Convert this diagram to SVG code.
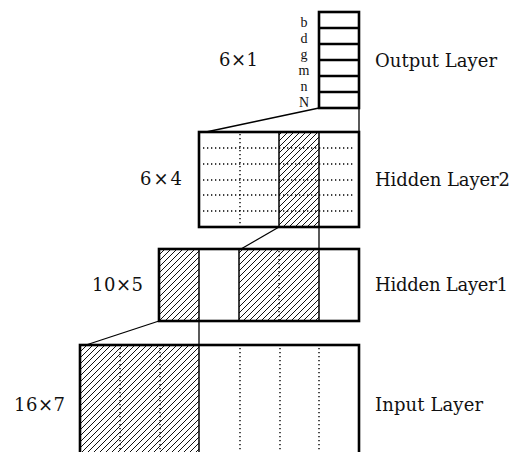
<svg xmlns="http://www.w3.org/2000/svg" width="511" height="452" viewBox="0 0 511 452">
<defs>
<pattern id="hatch" patternUnits="userSpaceOnUse" width="6" height="6">
<path d="M-1,1 l2,-2 M0,6 l6,-6 M5,7 l2,-2" stroke="#111" stroke-width="1"/>
</pattern>
<style>
.box{fill:none;stroke:#000;stroke-width:2.6}
.sol{fill:none;stroke:#000;stroke-width:1.5}
.dot{fill:none;stroke:#000;stroke-width:1.4;stroke-dasharray:1.3 2.7}
.hat{fill:url(#hatch);stroke:none}
.t{font-family:"DejaVu Serif","Liberation Serif",serif;font-size:18px;fill:#111}
.lt{font-family:"Liberation Serif","DejaVu Serif",serif;font-size:14px;fill:#111;text-anchor:middle}
</style>
</defs>
<rect width="511" height="452" fill="#fff"/>

<g id="output">
<rect class="box" x="319" y="12" width="40" height="96"/>
<path class="box" d="M319,28H359M319,44H359M319,60H359M319,76H359M319,92H359"/>
<text class="lt" x="304" y="27">b</text>
<text class="lt" x="304" y="43">d</text>
<text class="lt" x="304" y="59">g</text>
<text class="lt" x="304" y="75">m</text>
<text class="lt" x="304" y="91">n</text>
<text class="lt" x="304" y="107">N</text>
<text class="t" x="219" y="66" textLength="39">6×1</text>
<text class="t" x="375" y="67" textLength="122">Output Layer</text>
</g>

<g id="hidden2">
<rect class="hat" x="279" y="132" width="40" height="95"/>
<path class="dot" d="M203,148H355M203,164H355M203,180H355M203,195H355M203,211H355"/>
<path class="dot" d="M240,134V226"/>
<path class="sol" d="M279,132V227M319,132V227"/>
<rect class="box" x="199" y="132" width="160" height="95"/>
<text class="t" x="140" y="185" textLength="42">6×4</text>
<text class="t" x="375" y="186" textLength="135">Hidden Layer2</text>
</g>

<g id="hidden1">
<rect class="hat" x="159" y="249" width="40" height="72"/>
<rect class="hat" x="239" y="249" width="80" height="72"/>
<path class="dot" d="M279,251V320"/>
<path class="sol" d="M199,249V321M239,249V321M319,249V321"/>
<rect class="box" x="159" y="249" width="200" height="72"/>
<text class="t" x="92" y="291" textLength="51">10×5</text>
<text class="t" x="375" y="291" textLength="133">Hidden Layer1</text>
</g>

<g id="input">
<rect class="hat" x="80" y="345" width="119" height="110"/>
<path class="dot" d="M120,348V452M160,348V452M240,348V452M280,348V452M319,348V452"/>
<path class="sol" d="M199,345V455"/>
<rect class="box" x="80" y="345" width="279" height="115"/>
<text class="t" x="14" y="411" textLength="51">16×7</text>
<text class="t" x="375" y="411" textLength="108">Input Layer</text>
</g>

<g id="connectors" fill="none" stroke="#000" stroke-width="1.3">
<path d="M319,108L206,132"/>
<path d="M359,108V132"/>
<path d="M279,227L241,249"/>
<path d="M319,227V249"/>
<path d="M159,321L86,345"/>
<path d="M199,321V345"/>
</g>
</svg>
